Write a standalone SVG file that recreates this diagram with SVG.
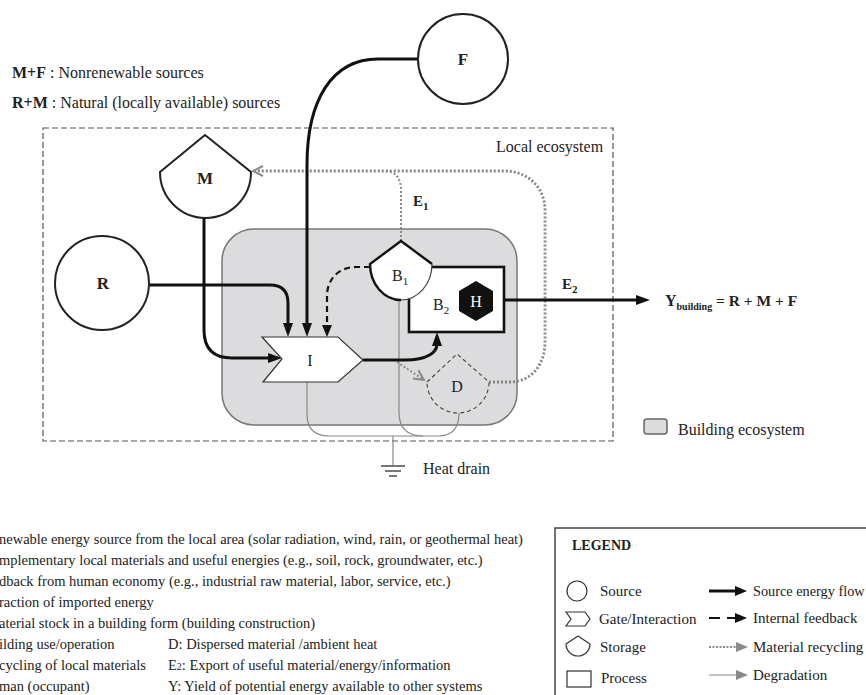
<svg xmlns="http://www.w3.org/2000/svg" width="866" height="695" viewBox="0 0 866 695">
<style>
text{font-family:"Liberation Serif","Times New Roman",serif;fill:#222}
.b{font-weight:bold}
.lbl{font-size:17px}
.node{fill:#fff;stroke:#222;stroke-width:2}
.flow{fill:none;stroke:#111;stroke-width:3}
.fb{fill:none;stroke:#111;stroke-width:2.2;stroke-dasharray:6 4}
.rec{fill:none;stroke:#858585;stroke-width:2.8;stroke-dasharray:2 2}
.rec1{fill:none;stroke:#8a8a8a;stroke-width:2;stroke-dasharray:2 2}
.deg{fill:none;stroke:#888;stroke-width:1.2}
.sm{font-size:14.5px}
.lg{font-size:15px}
.t16{font-size:16px}
</style>
<defs>
<marker id="ah" markerUnits="userSpaceOnUse" viewBox="0 0 14 10" markerWidth="14" markerHeight="10" refX="2" refY="5" orient="auto">
<path d="M0,0 L14,5 L0,10 Z" fill="#111"/>
</marker>
<marker id="ahs" markerUnits="userSpaceOnUse" viewBox="0 0 12 10" markerWidth="12" markerHeight="10" refX="2" refY="5" orient="auto">
<path d="M0,0 L12,5 L0,10 Z" fill="#111"/>
</marker>
<marker id="gch" markerUnits="userSpaceOnUse" viewBox="0 0 12 12" markerWidth="12" markerHeight="12" refX="11" refY="6" orient="auto">
<path d="M1,1 L11,6 L1,11" fill="none" stroke="#8a8a8a" stroke-width="2"/>
</marker>
<marker id="gtri" markerUnits="userSpaceOnUse" viewBox="0 0 12 10" markerWidth="12" markerHeight="10" refX="1" refY="5" orient="auto">
<path d="M0,0 L12,5 L0,10 Z" fill="#8a8a8a"/>
</marker>
</defs>

<g id="header-notes">
<text x="12" y="78" class="t16"><tspan class="b">M+F</tspan> : Nonrenewable sources</text>
<text x="12" y="108" class="t16"><tspan class="b">R+M</tspan> : Natural (locally available) sources</text>
</g>

<g id="local-ecosystem">
<rect x="43" y="128" width="570" height="313" fill="none" stroke="#555" stroke-width="1.2" stroke-dasharray="6 3"/>
<text x="496" y="152" class="t16">Local ecosystem</text>
</g>

<g id="building-ecosystem">
<rect x="222" y="229" width="295" height="196" rx="32" fill="#dcdcde" stroke="#777" stroke-width="1.5"/>
</g>

<g id="connectors">
<path class="deg" d="M307,382 L307,414 Q307,436 329,436 L438,436 Q459,436 459,413"/>
<path class="deg" d="M399,300 L399,412 Q399,436 423,436"/>
<path class="deg" d="M393,436 L393,466"/>
<path d="M381,466 H405 M385,471 H401 M389,476 H397" stroke="#777" stroke-width="2"/>
<path class="rec" d="M489,382 L510,382 C531,382 545,365 545,342 L545,210 C545,187 527,171 505,171 L253,171" marker-end="url(#gch)"/>
<path class="rec1" d="M401,241 L401,190 C401,178 395,171 385,171"/>
<path class="rec1" d="M397,362 L424,380" marker-end="url(#gch)"/>
<path class="flow" d="M150,285 L270,285 Q288,285 288,303 L288,325" marker-end="url(#ah)"/>
<path class="flow" d="M419,59 L378,59 C332,59 307,100 307,165 L307,325" marker-end="url(#ah)"/>
<path class="flow" d="M204,218 L204,330 Q204,358 232,358 L270,358" marker-end="url(#ah)"/>
<path class="flow" d="M363,360 L405,360 C428,360 437,352 437,344" marker-end="url(#ah)"/>
<path class="flow" d="M504,300 L638,300" marker-end="url(#ah)"/>
<path class="fb" d="M370,267 L356,267 C338,267 327,280 327,296 L327,327" marker-end="url(#ahs)"/>
</g>

<g id="node-F">
<circle cx="463" cy="59" r="45" class="node"/>
<text x="463" y="65" text-anchor="middle" class="b lbl">F</text>
</g>
<g id="node-R">
<circle cx="102" cy="283" r="47" class="node"/>
<text x="103" y="289" text-anchor="middle" class="b lbl">R</text>
</g>
<g id="node-M">
<path d="M160,172 L205,135 L251,172 A45.5,46 0 0 1 160,172 Z" class="node"/>
<text x="205" y="184" text-anchor="middle" class="b lbl">M</text>
</g>
<g id="node-I">
<path d="M262,337 L338,337 L363,360 L338,382 L263,382 L282,359 Z" fill="#fff" stroke="#333" stroke-width="1.2"/>
<text x="310" y="366" text-anchor="middle" class="t16">I</text>
</g>
<g id="node-B2">
<rect x="409" y="267" width="95" height="65" fill="#fff" stroke="#111" stroke-width="2.6"/>
<text x="433" y="310" class="t16">B<tspan dy="4" style="font-size:11px">2</tspan></text>
<path d="M476,281 L493,291 L493,311 L476,321 L459,311 L459,291 Z" fill="#111"/>
<text x="476" y="307" text-anchor="middle" style="font-size:16px;fill:#fff">H</text>
</g>
<g id="node-B1">
<path d="M370,264 L401,241 L432,264 A31,36 0 0 1 370,264 Z" fill="#fff" stroke="none"/>
<path d="M401,300 A31,36 0 0 1 370,264 L401,241 L432,264" fill="none" stroke="#111" stroke-width="2.4"/>
<path d="M432,264 A31,36 0 0 1 401,300" fill="none" stroke="#444" stroke-width="1.2"/>
<text x="392" y="281" class="t16">B<tspan dy="4" style="font-size:11px">1</tspan></text>
</g>
<g id="node-D">
<path d="M427,382 L457,354 L489,382 A31,31 0 0 1 427,382 Z" fill="none" stroke="#444" stroke-width="1.1" stroke-dasharray="4 3"/>
<text x="457" y="392" text-anchor="middle" class="t16">D</text>
</g>

<g id="flow-labels">
<text x="413" y="206" class="b" style="font-size:15px">E<tspan dy="4" style="font-size:11px">1</tspan></text>
<text x="562" y="289" class="b" style="font-size:15px">E<tspan dy="4" style="font-size:11px">2</tspan></text>
<text x="665" y="306" class="b" style="font-size:16px">Y<tspan dy="4" style="font-size:10px">building</tspan><tspan dy="-4" style="font-size:15.5px"> = R + M + F</tspan></text>
<text x="423" y="474" class="t16">Heat drain</text>
</g>

<g id="building-key">
<rect x="644" y="419" width="23" height="15" rx="3" fill="#dcdcde" stroke="#666" stroke-width="1.5"/>
<text x="678" y="435" class="t16">Building ecosystem</text>
</g>

<g id="definitions">
<text x="-1" y="544" class="sm">newable energy source from the local area (solar radiation, wind, rain, or geothermal heat)</text>
<text x="-1" y="565" class="sm">mplementary local materials and useful energies (e.g., soil, rock, groundwater, etc.)</text>
<text x="-1" y="586" class="sm">dback from human economy (e.g., industrial raw material, labor, service, etc.)</text>
<text x="-1" y="607" class="sm">raction of imported energy</text>
<text x="-1" y="628" class="sm">aterial stock in a building form (building construction)</text>
<text x="-1" y="649" class="sm">ilding use/operation</text>
<text x="-1" y="670" class="sm">cycling of local materials</text>
<text x="-1" y="691" class="sm">man (occupant)</text>
<text x="168" y="649" class="sm">D: Dispersed material /ambient heat</text>
<text x="168" y="670" class="sm">E<tspan style="font-size:10px">2</tspan>: Export of useful material/energy/information</text>
<text x="168" y="691" class="sm">Y: Yield of potential energy available to other systems</text>
</g>

<g id="legend">
<rect x="555" y="528" width="320" height="180" fill="#fff" stroke="#444" stroke-width="1.5"/>
<text x="572" y="550" class="b" style="font-size:14px">LEGEND</text>
<circle cx="577" cy="591" r="10" fill="none" stroke="#333" stroke-width="1.2"/>
<text x="600" y="596" class="lg">Source</text>
<path d="M566,612 L585,612 L590,619 L585,626 L566,626 L571,619 Z" fill="none" stroke="#333" stroke-width="1.2"/>
<text x="599" y="624" class="lg">Gate/Interaction</text>
<path d="M566,644 L578,636 L590,644 A12,12 0 0 1 566,644 Z" fill="none" stroke="#333" stroke-width="1.2"/>
<text x="600" y="652" class="lg">Storage</text>
<rect x="567" y="671" width="24" height="16" fill="none" stroke="#333" stroke-width="1.2"/>
<text x="601" y="683" class="lg">Process</text>
<path d="M709,591 L737,591" stroke="#111" stroke-width="3" marker-end="url(#ahs)"/>
<text x="753" y="596" style="font-size:14.3px">Source energy flow</text>
<path d="M709,618 L720,618 M727,618 L737,618" stroke="#111" stroke-width="2.2" marker-end="url(#ahs)"/>
<text x="753" y="623" class="lg">Internal feedback</text>
<path d="M709,647 L737,647" stroke="#8a8a8a" stroke-width="2" stroke-dasharray="2 1.5" marker-end="url(#gtri)"/>
<text x="753" y="652" class="lg">Material recycling</text>
<path d="M709,675 L737,675" stroke="#999" stroke-width="1.2" marker-end="url(#gtri)"/>
<text x="753" y="680" class="lg">Degradation</text>
</g>
</svg>
